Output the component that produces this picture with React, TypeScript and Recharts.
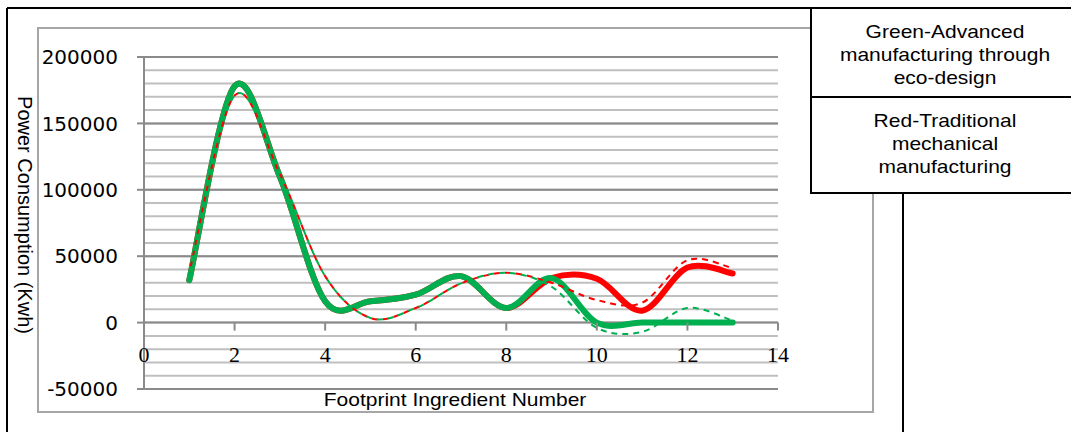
import React from 'react';
import { LineChart, Line, XAxis, YAxis, CartesianGrid } from 'recharts';

// ---- data ----
const xValues = [1, 2, 3, 4, 5, 6, 7, 8, 9, 10, 11, 12, 13];
const greenAdvanced = [32000, 178000, 110000, 16000, 16000, 21000, 35000, 11000, 33500, 0, 0, 0, 0];
const redTraditional = [32000, 178000, 110000, 16000, 16000, 21000, 35000, 11000, 33500, 33000, 9000, 41500, 37000];
const greenDashed = [38000, 171000, 112000, 35000, 3500, 11000, 29500, 37500, 27000, -4000, -7000, 11000, 1500];
const redDashed = [38000, 171000, 112000, 35000, 3500, 11000, 29500, 37500, 30000, 17000, 15000, 47000, 41000];
const xTicks = [0, 2, 4, 6, 8, 10, 12, 14];
const yTicks = [-50000, 0, 50000, 100000, 150000, 200000];
const yMinorTicks = [
  -50000, -40000, -30000, -20000, -10000, 0, 10000, 20000, 30000, 40000, 50000, 60000, 70000, 80000, 90000,
  100000, 110000, 120000, 130000, 140000, 150000, 160000, 170000, 180000, 190000, 200000,
];
const legendGreen = ['Green-Advanced', 'manufacturing through', 'eco-design'];
const legendRed = ['Red-Traditional', 'mechanical', 'manufacturing'];

const data = xValues.map((x, i) => ({
  x,
  green: greenAdvanced[i],
  red: redTraditional[i],
  greenD: greenDashed[i],
  redD: redDashed[i],
}));

// ---- geometry ----
const W = 1071;
const H = 432;
const PLOT_LEFT = 144;
const PLOT_RIGHT = 778;
const PLOT_TOP = 57;
const PLOT_BOTTOM = 389;
const Y_MIN = -50000;
const Y_MAX = 200000;
const Y_AXIS_W = 100;
const X_AXIS_H = 30;
const ZERO_Y = PLOT_TOP + ((PLOT_BOTTOM - PLOT_TOP) * (Y_MAX - 0)) / (Y_MAX - Y_MIN);

const SANS = "'Liberation Sans', Arial, sans-serif";
const GREEN = '#00b050';
const RED = '#ff0000';
const MAJOR = '#8a8a8a';
const MINOR = '#bfbfbf';

// Excel-like smoothed line (Catmull-Rom bezier)
const excelSmooth = (context: any) => {
  let xs: number[] = [];
  let ys: number[] = [];
  return {
    areaStart() {},
    areaEnd() {},
    lineStart() {
      xs = [];
      ys = [];
    },
    lineEnd() {
      const n = xs.length;
      if (!n) return;
      context.moveTo(xs[0], ys[0]);
      for (let i = 0; i < n - 1; i++) {
        const i0 = Math.max(0, i - 1);
        const i3 = Math.min(n - 1, i + 2);
        const c1x = xs[i] + (xs[i + 1] - xs[i0]) / 6;
        const c1y = ys[i] + (ys[i + 1] - ys[i0]) / 6;
        const c2x = xs[i + 1] - (xs[i3] - xs[i]) / 6;
        const c2y = ys[i + 1] - (ys[i3] - ys[i]) / 6;
        context.bezierCurveTo(c1x, c1y, c2x, c2y, xs[i + 1], ys[i + 1]);
      }
    },
    point(x: number, y: number) {
      xs.push(+x);
      ys.push(+y);
    },
  };
};

const XTick = (props: any) => {
  const { x, payload } = props;
  return (
    <g>
      <line x1={x} x2={x} y1={ZERO_Y} y2={ZERO_Y + 8} stroke={MAJOR} strokeWidth={2} />
      <text
        x={x}
        y={ZERO_Y + 39}
        textAnchor="middle"
        fontFamily="'Liberation Serif', 'Times New Roman', serif"
        fontSize={22}
        fill="#000"
      >
        {payload.value}
      </text>
    </g>
  );
};

const StretchText = ({ cx, y, children, size = 18.6 }: any) => (
  <text
    transform={`translate(${cx},${y}) scale(1.13,1)`}
    textAnchor="middle"
    fontFamily={SANS}
    fontSize={size}
    fill="#000"
  >
    {children}
  </text>
);

export default function App() {
  return (
    <div style={{ position: 'absolute', left: 0, top: 0, width: W, height: H, overflow: 'hidden', background: '#fff' }}>
      {/* background frames and axis titles */}
      <svg width={W} height={H} style={{ position: 'absolute', left: 0, top: 0 }}>
        <line x1={7} y1={8} x2={7} y2={H} stroke="#000" strokeWidth={2} />
        <line x1={7} y1={8} x2={811} y2={8} stroke="#000" strokeWidth={2} />
        <line x1={903} y1={193} x2={903} y2={H} stroke="#000" strokeWidth={2} />
        <rect x={38} y={28} width={835} height={384} fill="#fff" stroke="#a6a6a6" strokeWidth={2} />
        <text
          transform="translate(25,215) rotate(90)"
          textAnchor="middle"
          dominantBaseline="central"
          fontFamily={SANS}
          fontSize={20}
          fill="#000"
        >
          Power Consumption (Kwh)
        </text>
        <StretchText cx={455} y={405.5}>
          Footprint Ingredient Number
        </StretchText>
      </svg>

      <div style={{ position: 'absolute', left: 0, top: 0 }}>
        <LineChart
          width={W}
          height={H}
          data={data}
          margin={{
            top: PLOT_TOP,
            right: W - PLOT_RIGHT,
            bottom: H - PLOT_BOTTOM - X_AXIS_H,
            left: PLOT_LEFT - Y_AXIS_W,
          }}
        >
          <CartesianGrid vertical={false} stroke={MINOR} strokeWidth={2} horizontalValues={yMinorTicks} />
          <CartesianGrid vertical={false} stroke={MAJOR} strokeWidth={2} horizontalValues={yTicks} />
          <XAxis
            dataKey="x"
            type="number"
            domain={[0, 14]}
            ticks={xTicks}
            interval={0}
            axisLine={false}
            tickLine={false}
            tick={XTick}
            height={X_AXIS_H}
          />
          <YAxis
            type="number"
            domain={[Y_MIN, Y_MAX]}
            ticks={yTicks}
            interval={0}
            width={Y_AXIS_W}
            axisLine={{ stroke: MAJOR, strokeWidth: 2 }}
            tickLine={{ stroke: MAJOR, strokeWidth: 2 }}
            tickSize={7}
            tickMargin={19}
            tick={{ fill: '#000', fontSize: 20, fontFamily: "'DejaVu Sans', Verdana, sans-serif" }}
          />
          <Line
            dataKey="red"
            type={excelSmooth as any}
            stroke={RED}
            strokeWidth={6}
            strokeLinecap="round"
            strokeLinejoin="round"
            dot={false}
            activeDot={false}
            isAnimationActive={false}
          />
          <Line
            dataKey="green"
            type={excelSmooth as any}
            stroke={GREEN}
            strokeWidth={6}
            strokeLinecap="round"
            strokeLinejoin="round"
            dot={false}
            activeDot={false}
            isAnimationActive={false}
          />
          <Line
            dataKey="redD"
            type={excelSmooth as any}
            stroke={RED}
            strokeWidth={2}
            strokeDasharray="6 5"
            strokeDashoffset={5}
            dot={false}
            activeDot={false}
            isAnimationActive={false}
          />
          <Line
            dataKey="greenD"
            type={excelSmooth as any}
            stroke={GREEN}
            strokeWidth={2}
            strokeDasharray="6 5"
            dot={false}
            activeDot={false}
            isAnimationActive={false}
          />
        </LineChart>
      </div>

      {/* legend box */}
      <svg width={W} height={H} style={{ position: 'absolute', left: 0, top: 0, pointerEvents: 'none' }}>
        <rect x={811} y={8} width={268} height={185} fill="#fff" stroke="#000" strokeWidth={2} />
        <line x1={811} y1={97} x2={1079} y2={97} stroke="#000" strokeWidth={2} />
        {legendGreen.map((t, i) => (
          <StretchText key={t} cx={945} y={38 + i * 23}>
            {t}
          </StretchText>
        ))}
        {legendRed.map((t, i) => (
          <StretchText key={t} cx={945} y={127 + i * 23}>
            {t}
          </StretchText>
        ))}
      </svg>
    </div>
  );
}
